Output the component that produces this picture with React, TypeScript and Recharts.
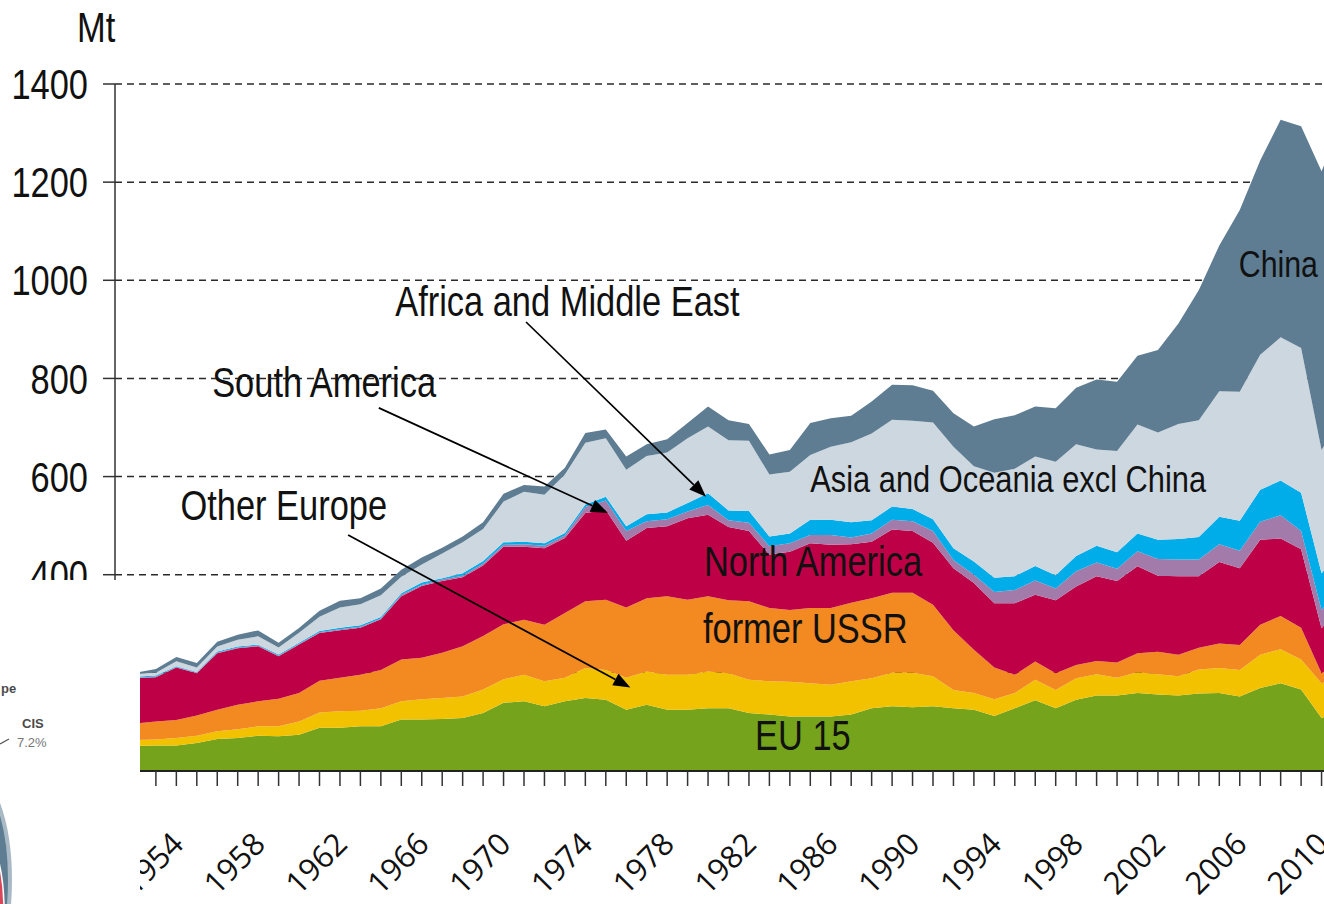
import React from "react";
import {
  AreaChart, Area, XAxis, YAxis, CartesianGrid, ReferenceLine, ReferenceDot,
} from "recharts";

// crude steel production by region, Mt
const years = [
  1951, 1952, 1953, 1954, 1955, 1956, 1957, 1958, 1959, 1960,
  1961, 1962, 1963, 1964, 1965, 1966, 1967, 1968, 1969, 1970,
  1971, 1972, 1973, 1974, 1975, 1976, 1977, 1978, 1979, 1980,
  1981, 1982, 1983, 1984, 1985, 1986, 1987, 1988, 1989, 1990,
  1991, 1992, 1993, 1994, 1995, 1996, 1997, 1998, 1999, 2000,
  2001, 2002, 2003, 2004, 2005, 2006, 2007, 2008, 2009, 2010,
  2011,
];

const eu15 = [
  48, 51, 52, 52, 57, 65, 67, 72, 71, 74,
  88, 88, 91, 91, 105, 105, 106, 108, 118, 139,
  142, 132, 142, 149, 145, 125, 135, 125, 125, 128,
  128, 118, 115, 111, 111, 111, 115, 128, 132, 130,
  132, 128, 125, 112, 128, 144, 128, 145, 154, 154,
  159, 156, 154, 158, 159, 152, 169, 179, 166, 108,
  125,
];

const otherEurope = [
  11, 12, 12, 15, 15, 16, 18, 19, 20, 27,
  31, 34, 32, 37, 37, 41, 43, 44, 48, 48,
  54, 51, 48, 61, 61, 65, 68, 71, 71, 75,
  71, 68, 68, 71, 68, 65, 68, 61, 68, 70,
  61, 37, 34, 34, 31, 42, 37, 44, 43, 36,
  42, 41, 39, 49, 51, 54, 68, 69, 61, 71,
  65,
];

const formerUssr = [
  31, 34, 37, 37, 41, 44, 50, 51, 56, 58,
  65, 68, 73, 78, 85, 85, 92, 102, 109, 112,
  112, 115, 132, 136, 143, 143, 149, 160, 153, 153,
  149, 160, 149, 146, 153, 156, 160, 163, 163, 163,
  146, 122, 88, 65, 37, 37, 34, 27, 27, 31,
  39, 46, 44, 44, 50, 51, 61, 68, 65, 20,
  35,
];

const northAmerica = [
  100, 92, 90, 107, 86, 115, 115, 112, 87, 99,
  97, 97, 96, 103, 129, 146, 146, 141, 144, 158,
  149, 156, 153, 180, 183, 136, 143, 143, 166, 166,
  149, 143, 109, 119, 132, 129, 119, 115, 129, 126,
  126, 126, 136, 131, 146, 136, 149, 160, 173, 166,
  177, 155, 160, 146, 166, 156, 173, 158, 160, 92,
  110,
];

const southAmerica = [
  1, 1, 1.5, 1, 1.5, 1.5, 1.5, 1.5, 1.5, 1.5,
  1.5, 2, 2, 2, 3, 2, 3, 3, 4, 4,
  5, 5, 5, 12, 19, 20, 14, 14, 14, 20,
  14, 17, 17, 17, 17, 20, 14, 17, 20, 20,
  24, 17, 17, 23, 27, 29, 24, 31, 28, 25,
  31, 34, 34, 34, 36, 36, 37, 47, 37, 37,
  40,
];

const africaMiddleEast = [
  1.5, 2, 2, 1.5, 1.5, 2, 2, 2, 2, 2,
  3, 3, 3, 3, 3, 5, 3, 5, 5, 5,
  5, 5, 5, 5, 8, 10, 14, 14, 17, 24,
  20, 24, 20, 20, 31, 31, 31, 27, 27, 25,
  24, 24, 27, 29, 28, 30, 27, 31, 34, 34,
  36, 39, 42, 46, 56, 61, 65, 71, 78, 75,
  78,
];

const asiaOceania = [
  5, 6, 5.5, 10, 9, 10, 14, 17, 14, 20,
  29, 41, 43, 44, 34, 37, 50, 63, 65, 83,
  102, 99, 119, 126, 119, 115, 119, 122, 132, 136,
  143, 143, 126, 126, 132, 149, 163, 177, 177, 180,
  197, 207, 194, 214, 219, 223, 231, 228, 196, 206,
  222, 219, 234, 238, 256, 263, 275, 292, 295, 251,
  270,
];

const china = [
  1, 2, 8, 9, 9, 10, 10, 12, 10, 10,
  12, 14, 12, 14, 14, 14, 12, 12, 14, 16,
  14, 17, 14, 20, 18, 27, 24, 27, 31, 41,
  41, 34, 41, 44, 65, 58, 54, 65, 71, 72,
  65, 68, 81, 109, 109, 102, 109, 115, 143, 141,
  140, 168, 205, 265, 297, 370, 396, 443, 452, 568,
  600,
];

const yearLabels = [1954, 1958, 1962, 1966, 1970, 1974, 1978, 1982, 1986, 1990, 1994, 1998, 2002, 2006, 2010];
const valueTicks = [0, 200, 400, 600, 800, 1000, 1200, 1400];

const data = years.map((year, i) => ({
  year,
  eu15: eu15[i],
  otherEurope: otherEurope[i],
  formerUssr: formerUssr[i],
  northAmerica: northAmerica[i],
  southAmerica: southAmerica[i],
  africaMiddleEast: africaMiddleEast[i],
  asiaOceania: asiaOceania[i],
  china: china[i],
}));

const series = [
  { key: "eu15", color: "#75A31C" },
  { key: "otherEurope", color: "#F2C200" },
  { key: "formerUssr", color: "#F28921" },
  { key: "northAmerica", color: "#BE0046" },
  { key: "southAmerica", color: "#A37BAA" },
  { key: "africaMiddleEast", color: "#00ADE8" },
  { key: "asiaOceania", color: "#CDD7E0" },
  { key: "china", color: "#5E7D92" },
];

// region names placed in data coordinates (left edge / baseline)
const notes = [
  { text: "Africa and Middle East", year: 1964.7, value: 927, size: 42 },
  { text: "South America", year: 1955.75, value: 762, size: 42 },
  { text: "Other Europe", year: 1954.2, value: 512, size: 42 },
  { text: "North America", year: 1979.8, value: 398, size: 42 },
  { text: "former USSR", year: 1979.75, value: 260, size: 42 },
  { text: "EU 15", year: 1982.3, value: 42, size: 42 },
  { text: "Asia and Oceania excl China", year: 1985, value: 568, size: 37.6 },
  { text: "China", year: 2005.95, value: 1007, size: 37 },
];

const arrows = [
  { from: { x: 1963.9, y: 740 }, to: { x: 1975.1, y: 526 } },
  { from: { x: 1971.1, y: 915 }, to: { x: 1979.9, y: 559 } },
  { from: { x: 1962.4, y: 481 }, to: { x: 1976.2, y: 170 } },
];

const FONT = "'Liberation Sans', Arial, sans-serif";

function YearTick({ x, y, payload }: any) {
  if (!yearLabels.includes(payload.value)) return null;
  return (
    <text
      transform={`translate(${x + 9},${y + 58}) rotate(-45)`}
      textAnchor="end"
      fontFamily="'Open Sans', sans-serif"
      fontSize={31}
      fill="#111"
    >
      {payload.value}
    </text>
  );
}

function ValueTick({ x, y, payload }: any) {
  return (
    <text
      transform={`translate(${x},${y}) scale(0.82,1)`}
      textAnchor="end"
      dy="0.36em"
      fontFamily={FONT}
      fontSize={42}
      fill="#111"
    >
      {payload.value}
    </text>
  );
}

function Arrow({ x1, y1, x2, y2 }: any) {
  const dx = x2 - x1;
  const dy = y2 - y1;
  const len = Math.hypot(dx, dy) || 1;
  const ux = dx / len;
  const uy = dy / len;
  const head = 17;
  const half = 6.5;
  const bx = x2 - ux * head;
  const by = y2 - uy * head;
  return (
    <g>
      <line x1={x1} y1={y1} x2={bx} y2={by} stroke="#000" strokeWidth={1.7} />
      <polygon
        points={`${x2},${y2} ${bx - uy * half},${by + ux * half} ${bx + uy * half},${by - ux * half}`}
        fill="#000"
      />
    </g>
  );
}

function noteShape(text: string, size: number) {
  return (p: any) => (
    <text
      transform={`translate(${p.cx},${p.cy}) scale(0.82,1)`}
      fontFamily={FONT}
      fontSize={size}
      fill="#111"
    >
      {text}
    </text>
  );
}

export default function App() {
  return (
    <div
      style={{
        position: "fixed", left: 0, top: 0, width: 1324, height: 904,
        overflow: "hidden", background: "#fff",
      }}
    >
      <AreaChart
        width={1342}
        height={904}
        data={data}
        margin={{ top: 84, right: 0, bottom: 0, left: 0 }}
      >
        <CartesianGrid vertical={false} stroke="#2a2a2a" strokeDasharray="7 5" strokeWidth={1.5} />
        <XAxis
          dataKey="year"
          type="number"
          domain={[1951, 2011]}
          ticks={years}
          interval={0}
          height={133}
          tickSize={15}
          axisLine={{ stroke: "#222", strokeWidth: 2 }}
          tickLine={{ stroke: "#333", strokeWidth: 1.5 }}
          tick={<YearTick />}
        />
        <YAxis
          type="number"
          domain={[0, 1400]}
          ticks={valueTicks}
          width={115}
          tickSize={12}
          tickMargin={15}
          axisLine={{ stroke: "#333", strokeWidth: 1.5 }}
          tickLine={{ stroke: "#333", strokeWidth: 1.5 }}
          tick={<ValueTick />}
          label={{
            position: "insideTopLeft",
            content: ({ viewBox }: any) => (
              <text
                transform={`translate(${viewBox.x + 77},${viewBox.y - 42}) scale(0.82,1)`}
                fontFamily={FONT}
                fontSize={42}
                fill="#111"
              >
                Mt
              </text>
            ),
          }}
        />
        {series.map((s) => (
          <Area
            key={s.key}
            type="linear"
            dataKey={s.key}
            stackId="steel"
            stroke="none"
            fill={s.color}
            fillOpacity={1}
            dot={false}
            activeDot={false}
            isAnimationActive={false}
          />
        ))}
        {arrows.map((a, i) => (
          <ReferenceLine key={i} segment={[a.from, a.to]} ifOverflow="visible" shape={<Arrow />} />
        ))}
        {notes.map((n) => (
          <ReferenceDot
            key={n.text}
            x={n.year}
            y={n.value}
            r={0}
            ifOverflow="visible"
            shape={noteShape(n.text, n.size)}
          />
        ))}
      </AreaChart>

      {/* fragment of a neighbouring figure that covers the lower left corner */}
      <svg
        width={140}
        height={324}
        style={{ position: "absolute", left: 0, top: 580, background: "#fff" }}
      >
        <text x={1} y={113} fontFamily={FONT} fontWeight="bold" fontSize={13} fill="#4a4a4a">
          pe
        </text>
        <text x={22} y={148} fontFamily={FONT} fontWeight="bold" fontSize={13} fill="#4a4a4a">
          CIS
        </text>
        <text x={17} y={167} fontFamily={FONT} fontSize={13} fill="#777">
          7.2%
        </text>
        <line x1={0} y1={164} x2={9} y2={159} stroke="#555" strokeWidth={1.2} />
        <ellipse cx={-34} cy={300} rx={44} ry={112} fill="#5E7D92" stroke="#A9BAC6" strokeWidth={4} />
        <ellipse cx={-34} cy={330} rx={38} ry={95} fill="#D9475B" stroke="#fff" strokeWidth={1.5} />
      </svg>
    </div>
  );
}
